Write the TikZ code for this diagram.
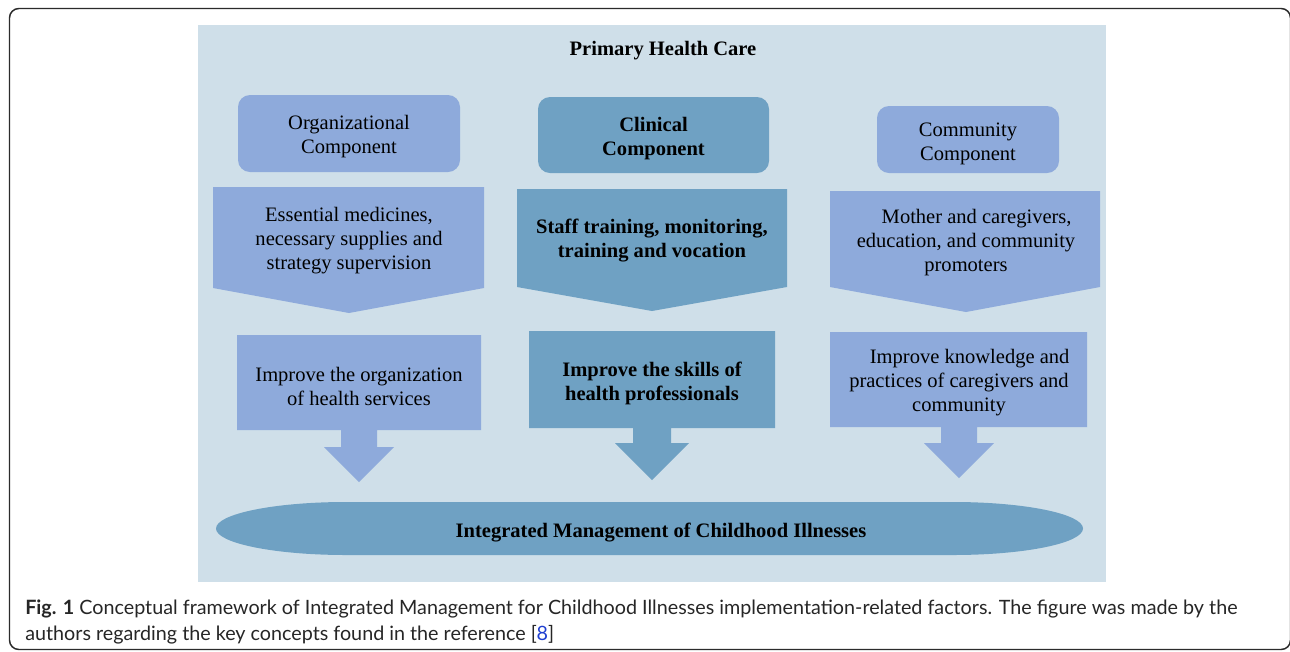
\documentclass[tikz,border=0pt]{standalone}
\usepackage{fontspec}
\setmainfont{Liberation Serif}
\newfontfamily\capfont{Lato}
\definecolor{panel}{HTML}{CFDFE9}
\definecolor{peri}{HTML}{8EAADB}
\definecolor{steel}{HTML}{6FA1C3}
\definecolor{frameln}{HTML}{2B2B2B}
\definecolor{linkblue}{HTML}{1F3FD0}
\tikzset{
  boxtext/.style={align=center,font=\fontsize{15.4}{18}\selectfont,text=black,inner sep=0pt},
  boldtext/.style={boxtext,font=\fontsize{15.4}{18}\selectfont\bfseries},
  captext/.style={anchor=base west,inner sep=0pt,font=\capfont\fontsize{14.8}{19}\selectfont,text=black!85},
}
\begin{document}
\begin{tikzpicture}[x=0.75pt,y=-0.75pt]
\useasboundingbox (0,0) rectangle (1290,651);
\begin{scope}
\clip (0,0) rectangle (1290,651);
\draw[frameln,line width=1.1pt,rounded corners=7pt] (9.5,8.5) rectangle (1290.5,649.5);
\end{scope}
% panel
\fill[panel] (198,25) rectangle (1106,582);
\node[boldtext] (title) at (663,51) {Primary Health Care};
% top boxes
\fill[peri,rounded corners=9pt] (238,95) rectangle (460,172);
\node[boxtext] (org) at (349,137) {Organizational\\Component};
\fill[steel,rounded corners=9pt] (538,97) rectangle (769,173);
\node[boldtext] (clin) at (653.5,139) {Clinical\\Component};
\fill[peri,rounded corners=9pt] (877,106) rectangle (1059,173);
\node[boxtext] (comm) at (968,144) {Community\\Component};
% chevrons
\fill[peri] (213,187) -- (484,187) -- (484,288) -- (349,313) -- (213,288) -- cycle;
\node[boxtext] (orgc) at (349,241) {Essential medicines,\\necessary supplies and\\strategy supervision};
\fill[steel] (517,189) -- (787,189) -- (787,287) -- (652,311) -- (517,287) -- cycle;
\node[boldtext] (clinc) at (652,241) {Staff training, monitoring,\\training and vocation};
\fill[peri] (830,191) -- (1100,191) -- (1100,287) -- (966,312) -- (830,287) -- cycle;
\node[boxtext] (commc) at (966,242.5) {\hspace*{16pt}Mother and caregivers,\\education, and community\\promoters};
% callouts
\fill[peri] (237,335) -- (481,335) -- (481,430) -- (377,430) -- (377,447) -- (394,447) -- (359,482) -- (324,447) -- (341,447) -- (341,430) -- (237,430) -- cycle;
\node[boxtext] (orgr) at (359,386) {Improve the organization\\of health services};
\fill[steel] (529,331) -- (775,331) -- (775,428) -- (671,428) -- (671,443) -- (689,443) -- (652,480) -- (615,443) -- (633,443) -- (633,428) -- (529,428) -- cycle;
\node[boldtext] (clinr) at (652,383) {Improve the skills of\\health professionals};
\fill[peri] (830,332) -- (1087,332) -- (1087,427) -- (977,427) -- (977,443) -- (994,443) -- (959,478) -- (924,443) -- (941,443) -- (941,427) -- (830,427) -- cycle;
\node[boxtext] (commr) at (959,383) {\hspace*{16pt}Improve knowledge and\\practices of caregivers and\\community};
% oval
\fill[steel] (346,502) -- (953,502)
  .. controls (1024.8,502) and (1083,513.9) .. (1083,528.5)
  .. controls (1083,543.1) and (1024.8,555) .. (953,555)
  -- (346,555)
  .. controls (274.2,555) and (216,543.1) .. (216,528.5)
  .. controls (216,513.9) and (274.2,502) .. (346,502) -- cycle;
\node[boldtext] (imci) at (661,533) {Integrated Management of Childhood Illnesses};
% caption
\node[captext] (cap1) at (25,614) {\textbf{Fig. 1} Conceptual framework of Integrated Management for Childhood Illnesses implementation-related factors. The figure was made by the};
\node[captext] (cap2) at (25,640) {authors regarding the key concepts found in the reference [\textcolor{linkblue}{8}]};
\end{tikzpicture}
\end{document}
